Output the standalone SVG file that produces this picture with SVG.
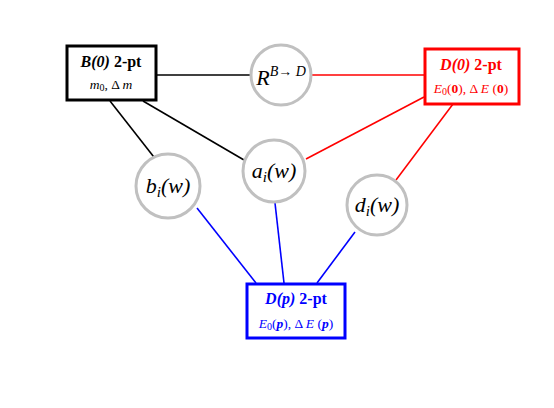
<svg xmlns="http://www.w3.org/2000/svg" width="554" height="408" viewBox="0 0 554 408">
<style>
.box{fill:#fff;stroke-width:3}
.circ{fill:#fff;stroke:#c0c0c0;stroke-width:3}
.t{font-family:"Liberation Serif",serif;text-anchor:middle}
.title{font-size:16px;font-weight:bold}
.sub{font-size:13.5px}
.lab{font-size:22px;font-style:italic}
.k{stroke:#000;stroke-width:1.6}
.r{stroke:#f00;stroke-width:1.6}
.b{stroke:#00f;stroke-width:1.6}
</style>
<rect width="554" height="408" fill="#fff"/>
<g id="connectors">
<line class="k" x1="156" y1="75" x2="251" y2="75"/>
<line class="r" x1="311" y1="75" x2="424" y2="75"/>
<line class="k" x1="110" y1="101" x2="157" y2="161"/>
<line class="k" x1="143" y1="101" x2="244" y2="160"/>
<line class="r" x1="424" y1="97" x2="306" y2="159"/>
<line class="r" x1="453" y1="104" x2="396" y2="180"/>
<line class="b" x1="197" y1="208" x2="256" y2="283"/>
<line class="b" x1="275" y1="203" x2="284" y2="283"/>
<line class="b" x1="355" y1="232" x2="317" y2="283"/>
</g>
<g id="B0">
<rect class="box" x="67" y="46" width="89" height="54" stroke="#000"/>
<text class="t title" x="111" y="67"><tspan font-style="italic">B(0)</tspan> 2-pt</text>
<text class="t sub" x="111" y="89"><tspan font-style="italic">m</tspan><tspan font-size="10" dy="2">0</tspan><tspan dy="-2">, Δ </tspan><tspan font-style="italic">m</tspan></text>
</g>
<g id="D0">
<rect class="box" x="425" y="49" width="94" height="55" stroke="#f00"/>
<text class="t title" x="471" y="70" fill="#f00"><tspan font-style="italic">D(0)</tspan> 2-pt</text>
<text class="t sub" x="471" y="93" fill="#f00"><tspan font-style="italic">E</tspan><tspan font-size="10" dy="2">0</tspan><tspan dy="-2">(</tspan><tspan font-weight="bold">0</tspan>), Δ <tspan font-style="italic">E</tspan> (<tspan font-weight="bold">0</tspan>)</text>
</g>
<g id="Dp">
<rect class="box" x="247" y="284" width="98" height="54" stroke="#00f"/>
<text class="t title" x="296" y="304" fill="#00f"><tspan font-style="italic">D(p)</tspan> 2-pt</text>
<text class="t sub" x="296" y="328" fill="#00f"><tspan font-style="italic">E</tspan><tspan font-size="10" dy="2">0</tspan><tspan dy="-2">(</tspan><tspan font-weight="bold" font-style="italic">p</tspan>), Δ <tspan font-style="italic">E</tspan> (<tspan font-weight="bold" font-style="italic">p</tspan>)</text>
</g>
<g id="R">
<circle class="circ" cx="281" cy="75" r="30"/>
<text class="t lab" x="281" y="85">R<tspan font-size="14" dy="-9">B→ D</tspan></text>
</g>
<g id="b">
<circle class="circ" cx="168" cy="186" r="32"/>
<text class="t lab" x="168" y="193">b<tspan font-size="15" dy="4">i</tspan><tspan dy="-4">(w)</tspan></text>
</g>
<g id="a">
<circle class="circ" cx="274" cy="171" r="31"/>
<text class="t lab" x="274" y="178">a<tspan font-size="15" dy="4">i</tspan><tspan dy="-4">(w)</tspan></text>
</g>
<g id="d">
<circle class="circ" cx="377" cy="205" r="30"/>
<text class="t lab" x="377" y="212">d<tspan font-size="15" dy="4">i</tspan><tspan dy="-4">(w)</tspan></text>
</g>
</svg>
